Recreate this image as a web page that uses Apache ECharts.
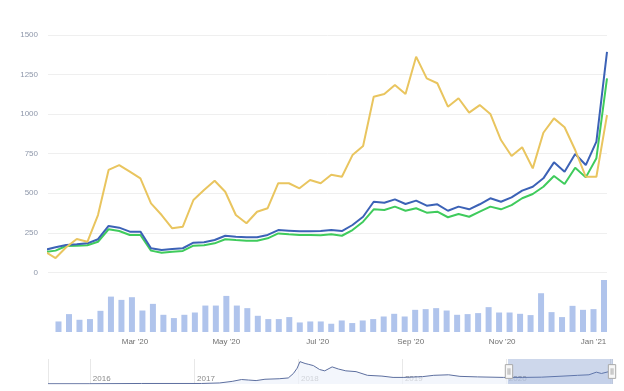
<!DOCTYPE html>
<html>
<head>
<meta charset="utf-8">
<script src="https://cdn.jsdelivr.net/npm/echarts@6/dist/echarts.min.js"></script>
<style>
html,body{margin:0;padding:0;background:#fff;}
#chart{width:624px;height:391px;}
</style>
</head>
<body>
<div id="chart"></div>
<script>
// ---- data ----
const dates = ['2020-01-03','2020-01-10','2020-01-17','2020-01-24','2020-01-31','2020-02-07','2020-02-14','2020-02-21','2020-02-28','2020-03-06','2020-03-13','2020-03-20','2020-03-27','2020-04-03','2020-04-10','2020-04-17','2020-04-24','2020-05-01','2020-05-08','2020-05-15','2020-05-22','2020-05-29','2020-06-05','2020-06-12','2020-06-19','2020-06-26','2020-07-03','2020-07-10','2020-07-17','2020-07-24','2020-07-31','2020-08-07','2020-08-14','2020-08-21','2020-08-28','2020-09-04','2020-09-11','2020-09-18','2020-09-25','2020-10-02','2020-10-09','2020-10-16','2020-10-23','2020-10-30','2020-11-06','2020-11-13','2020-11-20','2020-11-27','2020-12-04','2020-12-11','2020-12-18','2020-12-25','2021-01-01','2021-01-08'];
const blueSeries = [142,158,173,177,183,209,293,282,257,257,152,141,147,152,187,190,204,231,225,221,221,236,267,263,259,259,261,267,261,299,351,446,440,461,432,453,421,430,389,415,398,430,468,446,474,516,541,594,695,636,748,678,826,1394];
const greenSeries = [128,137,166,168,171,193,272,261,236,236,137,124,130,135,168,171,183,209,204,200,200,215,246,240,236,236,234,240,231,267,320,398,394,415,389,405,377,383,348,369,351,383,415,398,425,468,495,541,609,558,661,600,721,1226];
const yellowSeries = [131,90,158,210,193,362,647,678,636,594,436,362,278,288,457,520,579,509,362,310,383,405,563,563,531,583,563,617,604,741,798,1110,1127,1184,1127,1363,1226,1195,1047,1100,1009,1057,1001,836,735,790,657,882,973,917,773,604,604,994];
// volume bars, one per date starting from dates[1]
const volumes = [106,180,123,130,213,356,323,350,216,283,173,140,173,196,266,266,363,266,240,163,130,130,150,96,106,106,83,116,90,116,130,156,183,156,223,230,240,216,173,180,190,250,196,196,183,170,390,200,150,263,223,230,523];
const viewStart = '2020-01-05';
const yTicks = [0,250,500,750,1000,1250,1500];
// navigator (overview) series
const navDates = ['2015-08-07','2016-01-01','2016-07-01','2017-01-27','2017-04-01','2017-05-15','2017-06-17','2017-07-12','2017-08-07','2017-09-07','2017-10-27','2017-11-28','2017-12-16','2017-12-29','2018-01-08','2018-01-26','2018-02-06','2018-02-24','2018-03-18','2018-04-05','2018-05-01','2018-05-23','2018-06-18','2018-07-24','2018-09-02','2018-10-23','2018-12-01','2019-01-08','2019-03-15','2019-04-23','2019-06-14','2019-07-24','2019-09-24','2019-12-24','2020-02-28','2020-05-05','2020-07-20','2020-09-09','2020-10-19','2020-11-14','2020-12-02','2021-01-08'];
const navValues = [1,1,2,2,4,10,17,15,13,18,20,23,40,60,85,78,75,70,55,50,65,57,50,47,33,30,25,25,28,33,35,29,27,25,25,26,30,33,35,45,40,50];

// ---- build ----
const pair = (xs, ys) => ys.map((v, i) => [xs[i], v]);
const MONTHS = ['Jan','Feb','Mar','Apr','May','Jun','Jul','Aug','Sep','Oct','Nov','Dec'];
const lastDate = dates[dates.length - 1];
const FONT = 'Liberation Sans';

const chart = echarts.init(document.getElementById('chart'), null, {renderer: 'canvas'});
chart.setOption({
  animation: false,
  backgroundColor: '#fff',
  textStyle: {fontFamily: FONT},
  grid: [
    {left: 48, right: 17, top: 35, height: 237.3},
    {left: 48, right: 17, top: 280, height: 52},
    {left: 48, right: 12, top: 359, height: 25},
    {left: 48, right: 12, top: 359, height: 25}
  ],
  xAxis: [
    {type: 'time', gridIndex: 0, min: viewStart, max: lastDate,
      axisLine: {show: false}, axisTick: {show: false}, axisLabel: {show: false}, splitLine: {show: false}},
    {type: 'time', gridIndex: 1, min: viewStart, max: lastDate, splitNumber: 5,
      axisLine: {show: false}, axisTick: {show: false}, splitLine: {show: false},
      axisLabel: {color: '#707070', fontSize: 8, margin: 6, fontFamily: FONT,
        formatter: function (v) { const d = new Date(v); return MONTHS[d.getMonth()] + " '" + String(d.getFullYear()).slice(2); }}},
    {type: 'time', gridIndex: 2, min: navDates[0], max: lastDate,
      axisLine: {show: false}, axisTick: {show: false},
      splitLine: {show: true, lineStyle: {color: '#e8e8e8', width: 1}},
      axisLabel: {inside: true, align: 'left', padding: [0, 0, 0, 3], margin: 1, color: '#8a8a8a', fontSize: 8, fontFamily: FONT,
        formatter: function (v) { const d = new Date(v); return d.getFullYear() >= 2021 ? '' : String(d.getFullYear()); }}},
    {type: 'time', gridIndex: 3, min: navDates[0], max: lastDate, show: false}
  ],
  yAxis: [
    {type: 'value', gridIndex: 0, min: yTicks[0], max: yTicks[yTicks.length - 1], interval: 250,
      axisLine: {show: false}, axisTick: {show: false},
      splitLine: {lineStyle: {color: '#efefef'}},
      axisLabel: {color: '#8e97aa', fontSize: 8, margin: 10, fontFamily: FONT,
        formatter: function (v) { return String(v); }}},
    {type: 'value', gridIndex: 1, min: 0, max: 'dataMax', show: false, splitLine: {show: false}},
    {type: 'value', gridIndex: 2, min: 0, max: 95, show: false, splitLine: {show: false}},
    {type: 'value', gridIndex: 3, min: 0, max: 95, show: false, splitLine: {show: false}}
  ],
  series: [
    {type: 'line', xAxisIndex: 0, yAxisIndex: 0, data: pair(dates, greenSeries), symbol: 'none',
      lineStyle: {color: '#3fcb5c', width: 2}, itemStyle: {color: '#3fcb5c'}},
    {type: 'line', xAxisIndex: 0, yAxisIndex: 0, data: pair(dates, blueSeries), symbol: 'none',
      lineStyle: {color: '#3c62b6', width: 2}, itemStyle: {color: '#3c62b6'}},
    {type: 'line', xAxisIndex: 0, yAxisIndex: 0, data: pair(dates, yellowSeries), symbol: 'none',
      lineStyle: {color: '#e9c55f', width: 2}, itemStyle: {color: '#e9c55f'}},
    {type: 'bar', xAxisIndex: 1, yAxisIndex: 1, data: pair(dates.slice(1), volumes), barWidth: 6,
      itemStyle: {color: '#b0c4ec'}},
    {type: 'line', xAxisIndex: 2, yAxisIndex: 2, data: pair(navDates, navValues), symbol: 'none',
      lineStyle: {color: '#5d6f9f', width: 1}, areaStyle: {color: '#eef2fb'}},
    {type: 'line', xAxisIndex: 3, yAxisIndex: 3, data: pair(navDates, navValues), symbol: 'none', silent: true,
      lineStyle: {opacity: 0}}
  ],
  dataZoom: [
    {type: 'slider', xAxisIndex: 3, filterMode: 'none', startValue: viewStart, endValue: lastDate,
      left: 48, right: 12, top: 359, height: 25,
      backgroundColor: 'rgba(0,0,0,0)', borderColor: 'rgba(0,0,0,0)',
      fillerColor: 'rgba(102,133,194,0.33)',
      showDataShadow: false, showDetail: false, brushSelect: false, moveHandleSize: 0,
      dataBackground: {lineStyle: {opacity: 0}, areaStyle: {opacity: 0}},
      selectedDataBackground: {lineStyle: {opacity: 0}, areaStyle: {opacity: 0}},
      handleIcon: 'path://M0,0 L8,0 L8,15 L0,15 Z M3,4 L3,11 M5,4 L5,11',
      handleSize: '55%',
      handleStyle: {color: '#f7f7f7', borderColor: '#aaaaaa', borderWidth: 1}
    }
  ]
});
</script>
</body>
</html>
